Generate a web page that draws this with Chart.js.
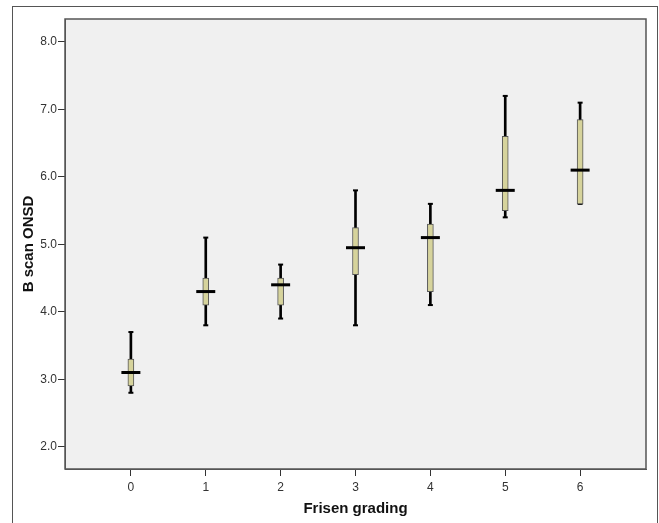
<!DOCTYPE html>
<html>
<head>
<meta charset="utf-8">
<script src="https://cdn.jsdelivr.net/npm/chart.js@4.4.0/dist/chart.umd.min.js"></script>
<style>
  html, body { margin: 0; padding: 0; background: #fff; }
  #wrap { position: relative; width: 659px; height: 523px; overflow: hidden; }
  #frame { position: absolute; left: 12px; top: 6px; width: 646px; height: 540px; box-sizing: border-box; border: 1px solid #555; }
  canvas { position: absolute; left: 0; top: 0; }
</style>
</head>
<body>
<div id="wrap">
  <div id="frame"></div>
  <canvas id="onsdBoxChart" width="659" height="523"></canvas>
</div>
<script>
// Frisen grade groups and box plot summary values (B scan ONSD)
const grades = [0, 1, 2, 3, 4, 5, 6];
const minVals = [2.8, 3.8, 3.9, 3.8, 4.1, 5.4, 5.6];
const q1Vals = [2.9, 4.1, 4.1, 4.55, 4.3, 5.5, 5.6];
const medianVals = [3.1, 4.3, 4.4, 4.95, 5.1, 5.8, 6.1];
const q3Vals = [3.3, 4.5, 4.5, 5.25, 5.3, 6.6, 6.85];
const maxVals = [3.7, 5.1, 4.7, 5.8, 5.6, 7.2, 7.1];
const yTicks = [2, 3, 4, 5, 6, 7, 8];

const tickFont = { family: 'Liberation Sans', size: 12 };
const titleFont = { family: 'Liberation Sans', size: 15, weight: 'bold' };

// grey plot background + frame around the chart area
const plotFrame = {
    id: 'plotFrame',
    beforeDraw(chart) {
        const { ctx, chartArea: a } = chart;
        ctx.save();
        ctx.fillStyle = '#f0f0f0';
        ctx.fillRect(a.left, a.top, a.right - a.left, a.bottom - a.top);
        ctx.restore();
    },
    afterDraw(chart) {
        const { ctx, chartArea: a } = chart;
        ctx.save();
        ctx.strokeStyle = '#555';
        ctx.lineWidth = 1.5;
        ctx.strokeRect(a.left, a.top, a.right - a.left, a.bottom - a.top);
        ctx.restore();
    }
};

const ctx = document.getElementById('onsdBoxChart').getContext('2d');

const chart = new Chart(ctx, {
    type: 'bar',
    data: {
        datasets: [
            {
                label: 'whisker',
                data: grades.map((g, i) => ({ x: g, y: [minVals[i], maxVals[i]] })),
                backgroundColor: '#000',
                barThickness: 2,
                grouped: false,
                order: 5
            },
            {
                type: 'line',
                label: 'caps',
                data: grades.flatMap((g, i) => [{ x: g, y: minVals[i] }, { x: g, y: maxVals[i] }]),
                showLine: false,
                pointStyle: 'line',
                pointRadius: 2.5,
                pointBorderWidth: 2,
                pointBorderColor: '#000',
                order: 4
            },
            {
                label: 'box',
                data: grades.map((g, i) => ({ x: g, y: [q1Vals[i], q3Vals[i]] })),
                backgroundColor: '#d6d39c',
                borderColor: '#555',
                borderWidth: 1,
                borderSkipped: false,
                barThickness: 6,
                grouped: false,
                order: 3
            },
            {
                type: 'line',
                label: 'median',
                data: grades.map((g, i) => ({ x: g, y: medianVals[i] })),
                showLine: false,
                pointStyle: 'line',
                pointRadius: 9.5,
                pointBorderWidth: 3,
                pointBorderColor: '#000',
                order: 1
            }
        ]
    },
    options: {
        responsive: false,
        animation: false,
        devicePixelRatio: 1,
        layout: { padding: { top: 19, right: 13, left: 0, bottom: 0 } },
        plugins: {
            legend: { display: false },
            tooltip: { enabled: false }
        },
        scales: {
            x: {
                type: 'linear',
                min: -0.88,
                max: 6.88,
                offset: false,
                afterBuildTicks: (scale) => { scale.ticks = grades.map(v => ({ value: v })); },
                afterFit: (scale) => { scale.height = 54; },
                grid: { offset: false, drawOnChartArea: false, drawTicks: true, tickLength: 7, color: '#333' },
                border: { display: true, color: '#555' },
                ticks: { font: tickFont, color: '#333', padding: 4, maxRotation: 0, callback: v => String(v) },
                title: { display: true, text: 'Frisen grading', font: titleFont, color: '#111', padding: { top: 0, bottom: 5 } }
            },
            y: {
                min: 1.67,
                max: 8.34,
                afterBuildTicks: (scale) => { scale.ticks = yTicks.map(v => ({ value: v })); },
                afterFit: (scale) => { scale.width = 65; },
                grid: { drawOnChartArea: false, drawTicks: true, tickLength: 7, color: '#333' },
                border: { display: true, color: '#555' },
                ticks: { font: tickFont, color: '#333', padding: 1, callback: v => v.toFixed(1) },
                title: { display: true, text: 'B scan ONSD', font: titleFont, color: '#111', padding: { top: 20, bottom: 0 } }
            }
        }
    },
    plugins: [plotFrame]
});
</script>
</body>
</html>
